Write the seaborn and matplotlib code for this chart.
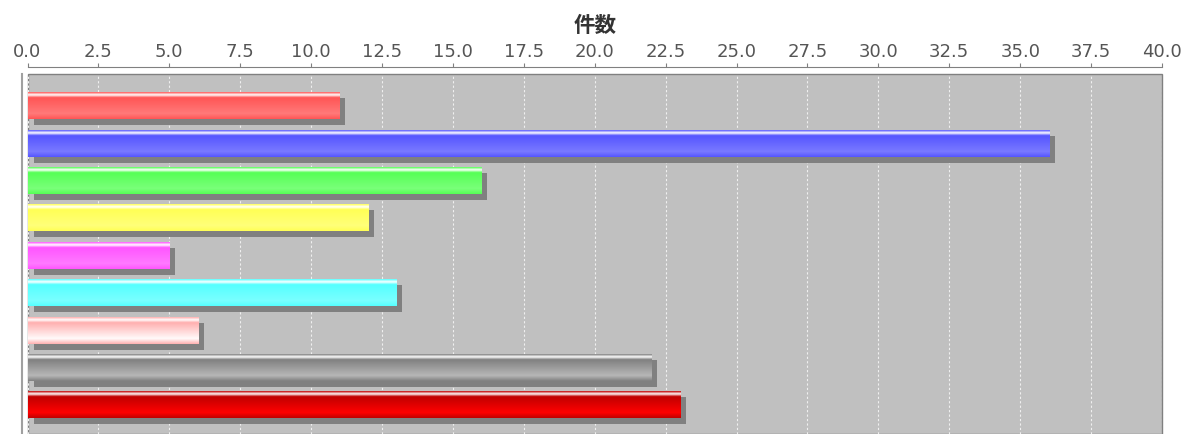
import numpy as np
import pandas as pd
import seaborn as sns
import matplotlib.pyplot as plt
from matplotlib.patches import Rectangle
from matplotlib.transforms import ScaledTranslation
from matplotlib.ticker import MultipleLocator, FormatStrFormatter
from matplotlib.colors import to_rgb

sns.set_style("white")
plt.rcParams['font.family'] = ['DejaVu Sans', 'Noto Sans CJK JP']

# data (no category labels are shown)
categories = ["A", "B", "C", "D", "E", "F", "G", "H", "I"]
counts = [11, 36, 16, 12, 5, 13, 6, 22, 23]
colors = ["#FF5555", "#5555FF", "#55FF55", "#FFFF55", "#FF55FF",
          "#55FFFF", "#FFAFAF", "#808080", "#C00000"]
xlabel = "件数"

df = pd.DataFrame({"cat": categories, "count": counts})

W, H, DPI = 1191, 434, 100
fig = plt.figure(figsize=(W / DPI, H / DPI), dpi=DPI)
ax = fig.add_axes([27.5 / W, 0, (1162 - 27.5) / W, (H - 74) / H])

sns.barplot(data=df, y="cat", x="count", hue="cat", palette=colors,
            dodge=False, legend=False, width=0.72, orient="h", ax=ax,
            linewidth=0, zorder=2)


def brighter(c):
    # java.awt.Color.brighter()
    return np.minimum(np.array(to_rgb(c)) / 0.7, 1.0)


def bar_gradient(c, n=120):
    c0 = np.array(to_rgb(c))
    c1 = brighter(c)
    white = np.ones(3)
    t = np.linspace(0, 1, n)
    out = np.zeros((n, 3))
    for i, v in enumerate(t):
        if v < 0.1:
            f = v / 0.1
            out[i] = c0 + (white - c0) * f
        elif v < 0.2:
            f = (v - 0.1) / 0.1
            out[i] = white + (c0 - white) * f
        elif v < 0.8:
            f = (v - 0.2) / 0.6
            out[i] = c0 + (c1 - c0) * f
        else:
            f = (v - 0.8) / 0.2
            out[i] = c1 + (c0 - c1) * f
    return out.reshape(n, 1, 3)


# shadow offset: 6 px right, 6 px down
shadow_tr = ax.transData + ScaledTranslation(6 / DPI, -6 / DPI,
                                             fig.dpi_scale_trans)

bars = list(ax.patches)
for bar, col in zip(bars, colors):
    x, y, w, h = bar.get_x(), bar.get_y(), bar.get_width(), bar.get_height()
    sh = Rectangle((x, y), w, h, facecolor="#808080", edgecolor="none",
                   transform=shadow_tr, zorder=1.5)
    ax.add_patch(sh)
    im = ax.imshow(bar_gradient(col), extent=(x, x + w, y + h, y),
                   origin="upper", aspect="auto", interpolation="bilinear",
                   zorder=2.1)
    im.set_clip_path(bar)

ax.set_xlim(0, 40)
ax.set_ylim(8.78, -0.85)

ax.set_facecolor("#C0C0C0")
ax.patch.set_edgecolor("#808080")
ax.patch.set_linewidth(1)
ax.set_axisbelow(True)
ax.xaxis.set_major_locator(MultipleLocator(2.5))
ax.xaxis.set_major_formatter(FormatStrFormatter("%.1f"))
ax.grid(axis="x", color="#F0F0F0", linestyle=(0, (2, 2)), linewidth=0.8)

ax.xaxis.tick_top()
ax.xaxis.set_label_position("top")
ax.tick_params(axis="x", top=True, bottom=False, length=3, width=0.8,
               color="#808080", labelcolor="#555555", labelsize=13, pad=1.5)
ax.tick_params(axis="y", left=False, labelleft=False)
ax.set_ylabel("")
ax.set_xlabel(xlabel, family=["Noto Sans CJK JP", "DejaVu Sans"],
              fontweight="bold", fontsize=15.5, color="#333333", labelpad=8)

for s in ["right", "bottom"]:
    ax.spines[s].set_visible(False)
ax.spines["top"].set_position(("outward", 7 * 72 / DPI))
ax.spines["top"].set_color("#808080")
ax.spines["top"].set_linewidth(0.8)
ax.spines["left"].set_position(("outward", 6 * 72 / DPI))
ax.spines["left"].set_color("#A0A0A0")
ax.spines["left"].set_linewidth(1.5)

fig.savefig("out.png", dpi=DPI)
